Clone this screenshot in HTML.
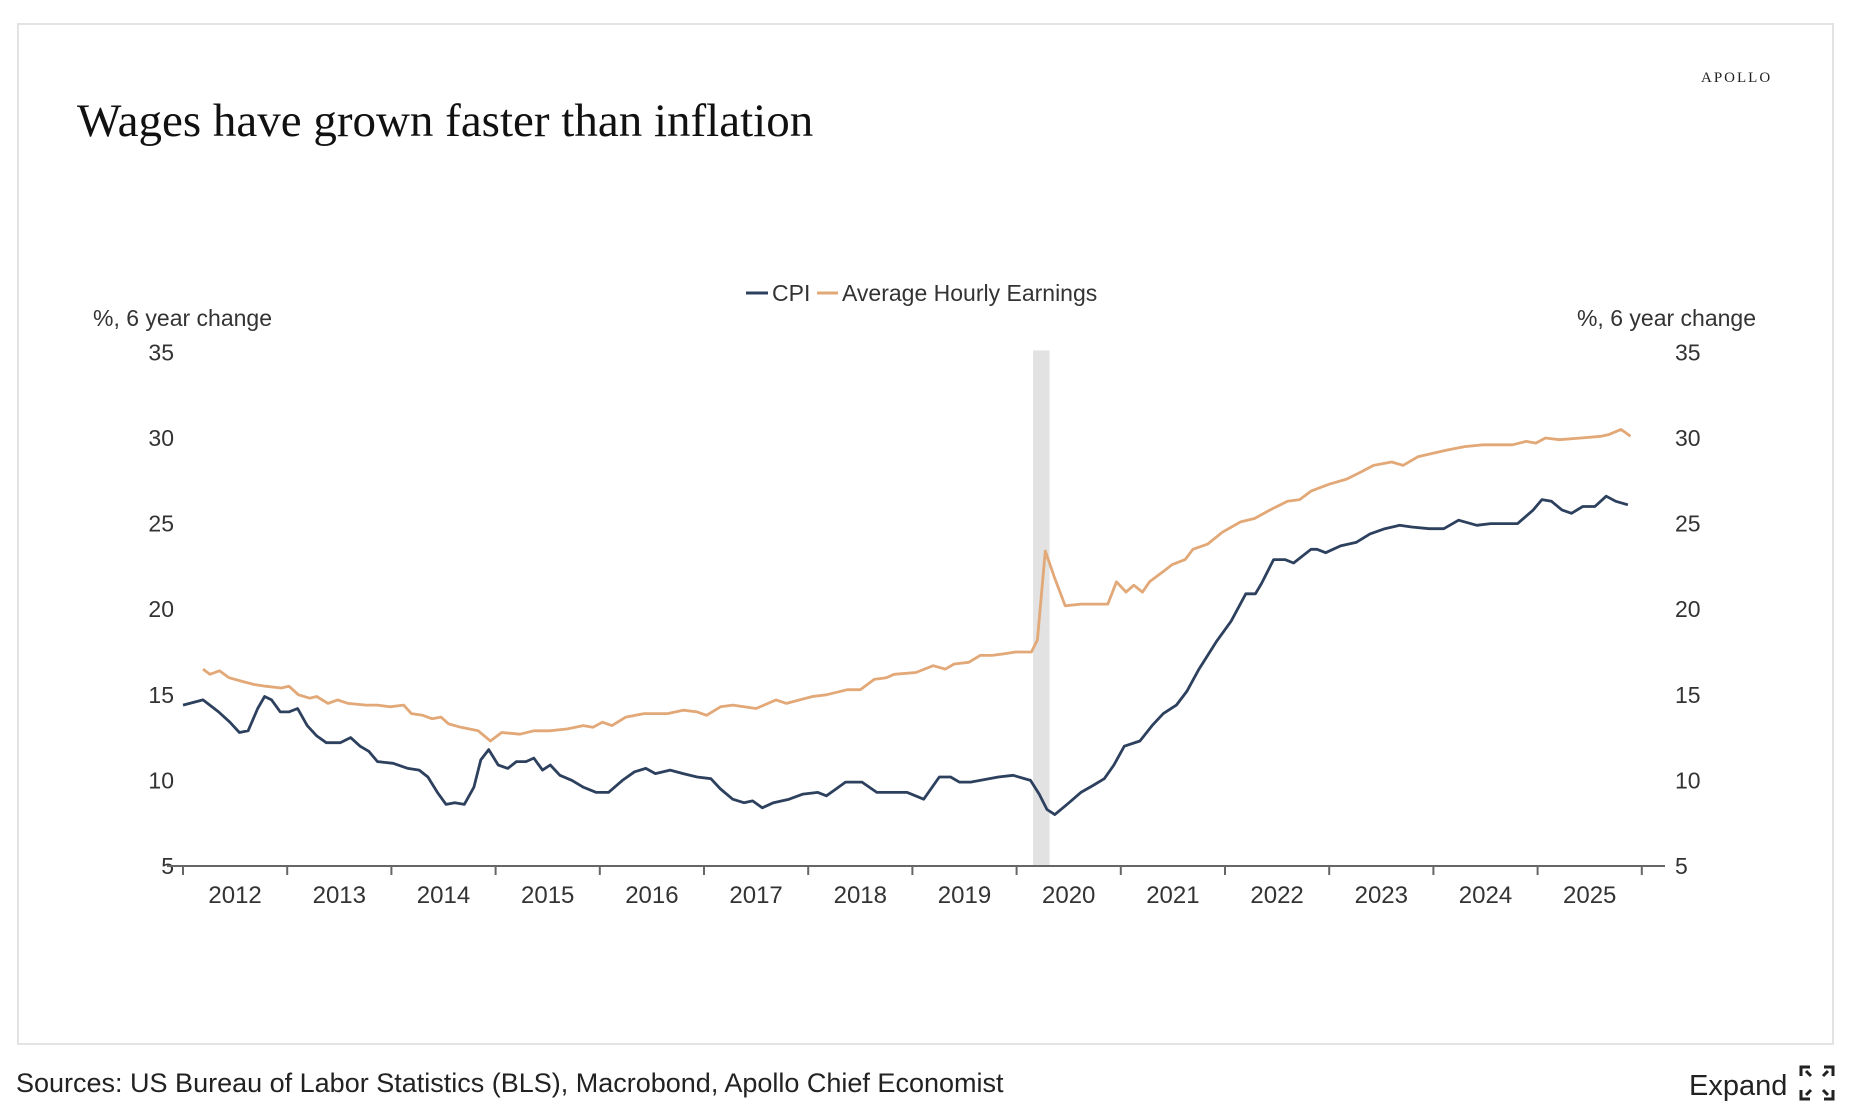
<!DOCTYPE html>
<html><head><meta charset="utf-8"><style>
html,body{margin:0;padding:0;background:#fff;}
svg{display:block;font-family:"Liberation Sans",sans-serif;}
</style></head><body>
<svg id="chart" width="1852" height="1120" viewBox="0 0 1852 1120">
<rect x="18" y="24" width="1815" height="1020" fill="#fff" stroke="#e3e3e3" stroke-width="2"/>
<text x="77" y="136" font-family="Liberation Serif,serif" font-size="47" fill="#111">Wages have grown faster than inflation</text>
<text x="1701" y="82" font-family="Liberation Serif,serif" font-size="15" letter-spacing="2" fill="#222">APOLLO</text>
<g>
<line x1="746" y1="293" x2="768" y2="293" stroke="#2d405e" stroke-width="3"/>
<text x="772" y="301" font-size="23" fill="#333">CPI</text>
<line x1="817" y1="293" x2="838" y2="293" stroke="#e2a877" stroke-width="3"/>
<text x="842" y="301" font-size="23" fill="#333">Average Hourly Earnings</text>
</g>
<text x="93" y="326" font-size="23" fill="#333">%, 6 year change</text>
<text x="1756" y="326" font-size="23" fill="#333" text-anchor="end">%, 6 year change</text>
<g id="plot"></g>
<text x="16" y="1092" font-size="27" fill="#222">Sources: US Bureau of Labor Statistics (BLS), Macrobond, Apollo Chief Economist</text>
<g>
<text x="1689" y="1095" font-size="29" fill="#222">Expand</text>
<g stroke="#222" stroke-width="3" fill="none">
<path d="M1801 1076v-9h9M1806 1071l5 5"/><path d="M1833 1076v-9h-9M1828 1071l-5 5"/>
<path d="M1801 1090v9h9M1806 1095l5-5"/><path d="M1833 1090v9h-9M1828 1095l-5-5"/>
</g></g>
</svg>
<script>
const yTicks=[5,10,15,20,25,30,35];
const years=["2012","2013","2014","2015","2016","2017","2018","2019","2020","2021","2022","2023","2024","2025"];
const recession=[97.9,99.8];
const cpiMonths=[0,2.3,4.1,5.4,6.5,7.5,8.6,9.4,10.2,11.2,12.2,13.2,14.3,15.4,16.5,18.1,19.3,20.4,21.4,22.4,24.2,25.9,27.2,28.2,29.3,30.3,31.3,32.4,33.5,34.3,35.2,36.3,37.4,38.4,39.5,40.4,41.4,42.3,43.4,44.8,46.1,47.6,49.0,50.6,52.0,53.3,54.4,56.1,57.6,59.2,60.8,61.9,63.3,64.6,65.6,66.7,68.0,69.8,71.4,73.1,74.1,75.2,76.3,78.2,79.9,81.9,83.4,85.3,87.1,88.4,89.4,90.7,91.8,93.9,95.6,97.6,98.6,99.5,100.4,101.8,103.4,104.8,106.1,107.2,108.4,110.2,111.6,112.9,114.4,115.6,117.0,119.0,120.7,122.4,123.5,124.2,125.6,126.9,127.9,129.9,130.6,131.6,133.3,135.1,136.7,138.4,140.1,141.5,143.5,145.2,146.9,149.0,150.6,153.7,155.5,156.5,157.6,158.8,159.9,161.2,162.6,163.9,165.0,166.4];
const cpiValues=[14.4,14.7,14.0,13.4,12.8,12.9,14.2,14.9,14.7,14.0,14.0,14.2,13.2,12.6,12.2,12.2,12.5,12.0,11.7,11.1,11.0,10.7,10.6,10.2,9.3,8.6,8.7,8.6,9.6,11.2,11.8,10.9,10.7,11.1,11.1,11.3,10.6,10.9,10.3,10.0,9.6,9.3,9.3,10.0,10.5,10.7,10.4,10.6,10.4,10.2,10.1,9.5,8.9,8.7,8.8,8.4,8.7,8.9,9.2,9.3,9.1,9.5,9.9,9.9,9.3,9.3,9.3,8.9,10.2,10.2,9.9,9.9,10.0,10.2,10.3,10.0,9.2,8.3,8.0,8.6,9.3,9.7,10.1,10.9,12.0,12.3,13.2,13.9,14.4,15.2,16.5,18.1,19.3,20.9,20.9,21.5,22.9,22.9,22.7,23.5,23.5,23.3,23.7,23.9,24.4,24.7,24.9,24.8,24.7,24.7,25.2,24.9,25.0,25.0,25.8,26.4,26.3,25.8,25.6,26.0,26.0,26.6,26.3,26.1];
const aheMonths=[2.3,3.1,4.2,5.3,6.7,8.2,9.5,11.3,12.2,13.3,14.6,15.4,16.7,17.8,19.0,21.1,22.4,23.8,25.4,26.3,27.6,28.7,29.7,30.6,32.0,34.0,35.4,36.7,38.8,40.4,42.2,44.2,46.1,47.2,48.3,49.4,51.0,53.1,55.8,57.6,59.2,60.3,61.9,63.3,66.0,68.3,69.5,72.5,74.1,76.5,78.0,79.6,81.0,81.9,84.4,86.4,87.8,88.8,90.5,91.8,93.2,94.6,95.9,97.7,98.4,99.3,100.4,101.6,103.4,106.5,107.5,108.6,109.5,110.5,111.3,112.9,113.9,115.4,116.3,118.0,119.7,121.8,123.4,125.2,127.2,128.6,129.9,132.0,134.0,135.6,137.1,139.2,140.5,142.2,143.9,145.6,147.6,149.7,151.4,153.1,154.7,155.8,156.9,158.5,161.0,163.3,164.2,165.6,166.7];
const aheValues=[16.5,16.2,16.4,16.0,15.8,15.6,15.5,15.4,15.5,15.0,14.8,14.9,14.5,14.7,14.5,14.4,14.4,14.3,14.4,13.9,13.8,13.6,13.7,13.3,13.1,12.9,12.3,12.8,12.7,12.9,12.9,13.0,13.2,13.1,13.4,13.2,13.7,13.9,13.9,14.1,14.0,13.8,14.3,14.4,14.2,14.7,14.5,14.9,15.0,15.3,15.3,15.9,16.0,16.2,16.3,16.7,16.5,16.8,16.9,17.3,17.3,17.4,17.5,17.5,18.2,23.4,21.8,20.2,20.3,20.3,21.6,21.0,21.4,21.0,21.6,22.2,22.6,22.9,23.5,23.8,24.5,25.1,25.3,25.8,26.3,26.4,26.9,27.3,27.6,28.0,28.4,28.6,28.4,28.9,29.1,29.3,29.5,29.6,29.6,29.6,29.8,29.7,30.0,29.9,30.0,30.1,30.2,30.5,30.1];

const NS="http://www.w3.org/2000/svg";
const X0=183, MW=104.2/12, Y5=866, YU=85.6/5;
function xS(m){return X0+m*MW;}
function yS(v){return Y5-(v-5)*YU;}
function mk(tag,attrs,parent){const e=document.createElementNS(NS,tag);for(const k in attrs)e.setAttribute(k,attrs[k]);parent.appendChild(e);return e;}
const plot=document.getElementById('plot');

const band=mk('rect',{x:xS(recession[0]),y:yS(35)-2,width:xS(recession[1])-xS(recession[0]),height:yS(5)-yS(35)+2,fill:'#e2e2e2'},plot);



yTicks.forEach(v=>{
  const l=mk('text',{x:174,y:yS(v)+8,'font-size':23,fill:'#333','text-anchor':'end'},plot);
  l.textContent=v;
  
  
  const r=mk('text',{x:1675,y:yS(v)+8,'font-size':23,fill:'#333'},plot);
  r.textContent=v;
  
  
});

const ax=mk('line',{x1:xS(0)-16,y1:yS(5),x2:1665,y2:yS(5),stroke:'#666','stroke-width':2},plot);


for(let i=0;i<=years.length;i++){
  const t=mk('line',{x1:xS(i*12),y1:yS(5),x2:xS(i*12),y2:yS(5)+9,stroke:'#666','stroke-width':2},plot);
  
  
}
years.forEach((y,i)=>{
  const t=mk('text',{x:xS(i*12+6),y:903,'font-size':24,fill:'#333','text-anchor':'middle'},plot);
  t.textContent=y;
  
  
});

function line(ms,vs,color,name){
  const d=ms.map((m,i)=>(i?'L':'M')+xS(m).toFixed(1)+' '+yS(vs[i]).toFixed(1)).join(' ');
  const p=mk('path',{d:d,fill:'none',stroke:color,'stroke-width':2.8,'stroke-linejoin':'round'},plot);
  
  
}
line(aheMonths,aheValues,'#e2a877','ahe-line');
line(cpiMonths,cpiValues,'#2d405e','cpi-line');
</script>
</body></html>
